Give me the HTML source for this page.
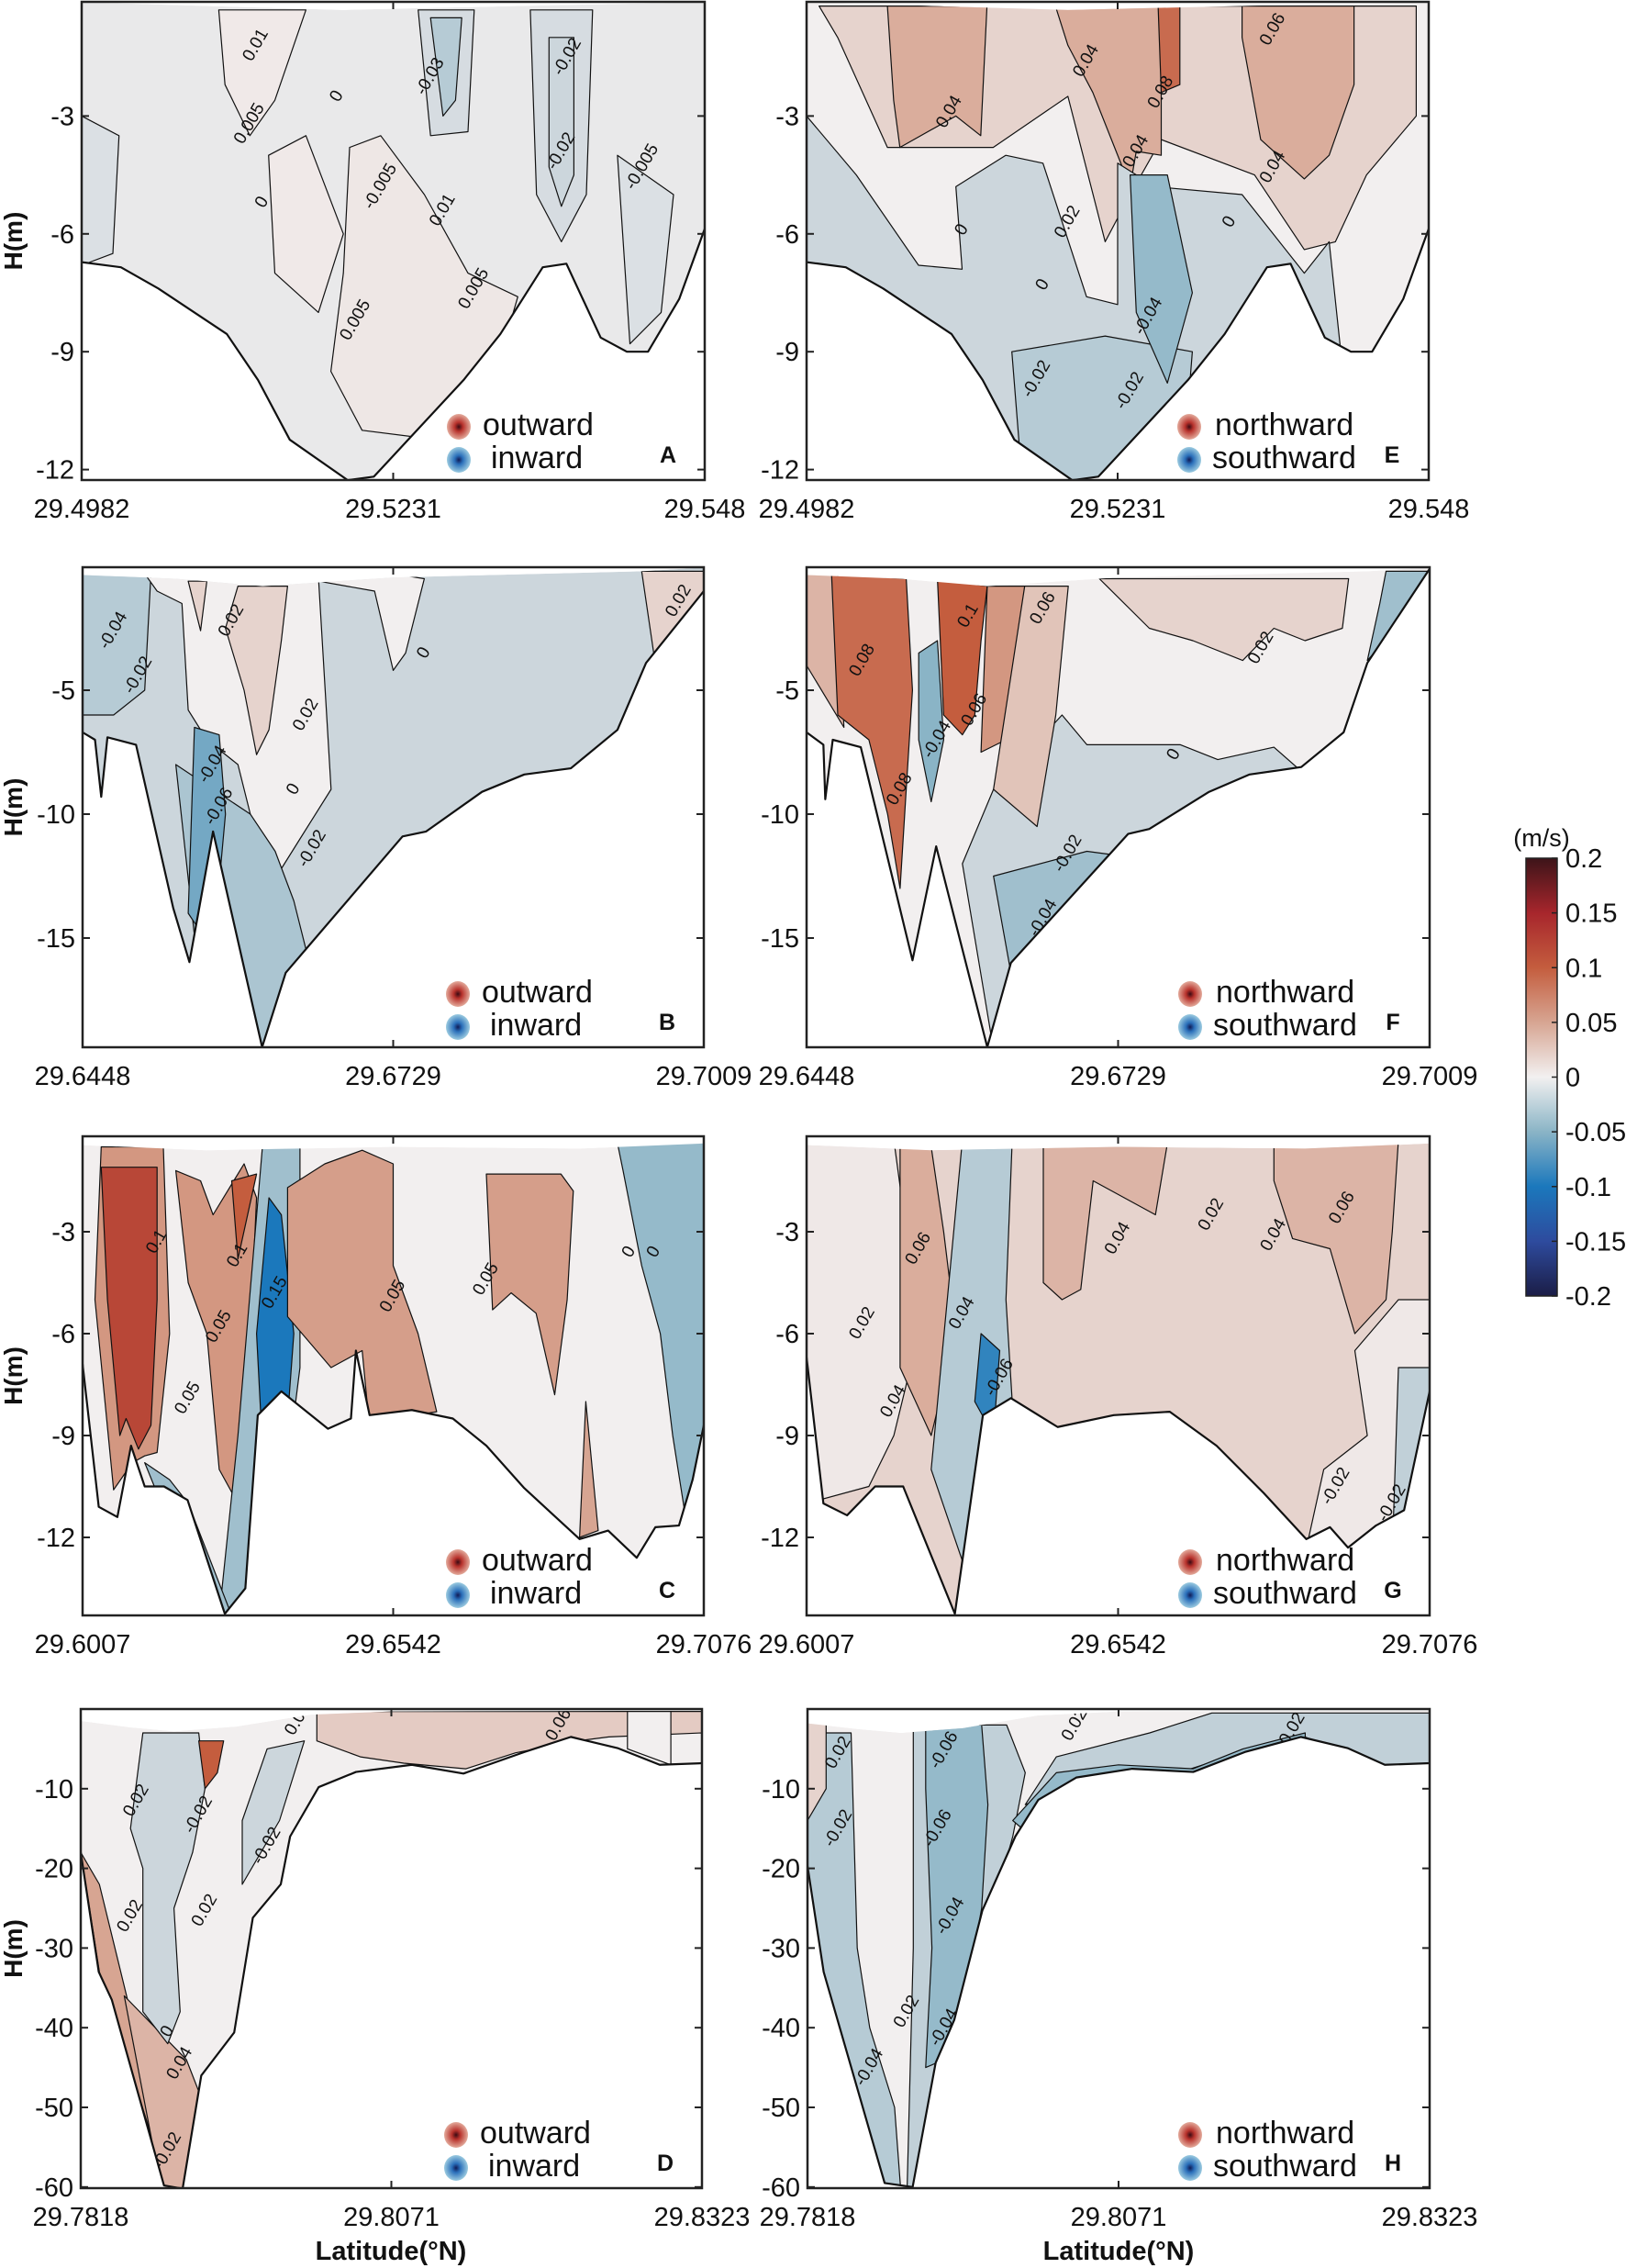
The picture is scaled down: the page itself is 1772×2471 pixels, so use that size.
<!DOCTYPE html>
<html><head><meta charset="utf-8"><title>Velocity sections</title>
<style>
html,body{margin:0;padding:0;background:#fff;}
svg{display:block;font-family:"Liberation Sans",Arial,sans-serif;}
</style></head>
<body>
<svg id="chart" width="1772" height="2471" viewBox="0 0 1772 2471" xmlns="http://www.w3.org/2000/svg">
<defs>
<radialGradient id="gRed"><stop offset="0" stop-color="#3a0a12"/><stop offset="0.35" stop-color="#b8322c"/><stop offset="1" stop-color="#e3ab9c"/></radialGradient>
<radialGradient id="gBlue"><stop offset="0" stop-color="#101a55"/><stop offset="0.35" stop-color="#2a6fba"/><stop offset="1" stop-color="#9ccbe0"/></radialGradient>
<linearGradient id="gBar" x1="0" y1="1" x2="0" y2="0">
<stop offset="0" stop-color="#1b1d46"/><stop offset="0.125" stop-color="#2e4b9e"/><stop offset="0.25" stop-color="#1b78bc"/><stop offset="0.375" stop-color="#8ab4c6"/><stop offset="0.5" stop-color="#f2f0f0"/><stop offset="0.625" stop-color="#d7a592"/><stop offset="0.75" stop-color="#c45d3e"/><stop offset="0.875" stop-color="#a7262c"/><stop offset="1" stop-color="#3d1419"/>
</linearGradient>
</defs>
</svg>
<script>
// ---------- data ----------
const bathyA_x=[0,0.063,0.123,0.233,0.283,0.334,0.427,0.469,0.613,0.672,0.74,0.778,0.833,0.875,0.909,0.959,1];
const bathyA_h=[-6.72,-6.85,-7.39,-8.55,-9.72,-11.24,-12.27,-12.18,-9.72,-8.55,-6.85,-6.76,-8.64,-9.0,-9.0,-7.66,-5.87];
const surfA_x=[0,0.2,0.42,0.7,1];
const surfA_h=[-0.1,-0.2,-0.3,-0.2,-0.1];
const bathyB_x=[0,0.02,0.03,0.04,0.086,0.146,0.172,0.21,0.289,0.327,0.515,0.553,0.643,0.711,0.786,0.861,0.907,1];
const bathyB_h=[-6.7,-7.0,-9.3,-6.9,-7.2,-13.8,-15.97,-10.7,-19.4,-16.4,-10.9,-10.7,-9.1,-8.4,-8.15,-6.6,-3.9,-1.0];
const surfB_x=[0,0.15,0.29,0.5,0.9,1];
const surfB_h=[-0.35,-0.5,-0.8,-0.45,-0.2,-0.05];
const bathyF_x=[0,0.027,0.03,0.042,0.087,0.17,0.208,0.29,0.328,0.516,0.55,0.646,0.711,0.794,0.862,0.9,1];
const bathyF_h=[-6.7,-7.2,-9.4,-7.0,-7.3,-15.9,-11.3,-19.4,-16.0,-10.8,-10.6,-9.1,-8.4,-8.1,-6.7,-3.9,-0.1];
const bathyC_x=[0,0.026,0.056,0.078,0.1,0.131,0.169,0.229,0.262,0.282,0.32,0.395,0.432,0.44,0.462,0.53,0.596,0.65,0.711,0.8,0.846,0.892,0.922,0.96,0.982,1];
const bathyC_h=[-6.9,-11.1,-11.4,-9.3,-10.5,-10.5,-10.9,-14.25,-13.5,-8.4,-7.7,-8.8,-8.5,-6.5,-8.4,-8.25,-8.5,-9.3,-10.55,-12.05,-11.8,-12.6,-11.7,-11.65,-10.3,-8.7];
const surfC_x=[0,0.2,0.5,0.8,1];
const surfC_h=[-0.45,-0.6,-0.5,-0.55,-0.4];
const bathyG_x=[0,0.027,0.065,0.11,0.155,0.238,0.283,0.328,0.403,0.493,0.583,0.658,0.734,0.802,0.84,0.869,0.914,0.959,1];
const bathyG_h=[-6.7,-11.0,-11.35,-10.5,-10.5,-14.25,-8.4,-7.9,-8.75,-8.4,-8.3,-9.3,-10.7,-12.05,-11.7,-12.3,-11.65,-11.2,-7.7];
const bathyD_x=[0,0.029,0.05,0.134,0.164,0.194,0.247,0.277,0.322,0.337,0.383,0.443,0.533,0.616,0.714,0.789,0.864,0.932,1];
const bathyD_h=[-18,-33,-36.5,-59.8,-60.2,-46,-40.6,-26.2,-22,-16,-9.8,-7.9,-7,-8.1,-5.4,-3.5,-4.9,-7,-6.8];
const surfD_x=[0,0.08,0.15,0.25,0.37,0.5,1];
const surfD_h=[-1.5,-2.3,-2.8,-2.2,-0.7,-0.3,-0.2];
const bathyH_x=[0,0.026,0.124,0.169,0.206,0.236,0.281,0.334,0.371,0.432,0.522,0.62,0.703,0.793,0.868,0.928,1];
const bathyH_h=[-19.7,-33,-59.5,-60,-44.4,-39,-25.3,-16,-11.4,-8.6,-7.5,-7.9,-5.4,-3.5,-4.9,-7,-6.8];
const surfH_x=[0,0.08,0.15,0.25,0.37,0.5,1];
const surfH_h=[-1.8,-2.5,-3.0,-2.4,-0.8,-0.3,-0.2];

// region values (m/s) and outlines in (fraction, depth)
const regA_val=[0.004,0.006,0.004,-0.015,-0.03,-0.015,-0.02,-0.012,-0.012];
const regA_pts=[
[[0.22,-0.3],[0.36,-0.3],[0.31,-2.6],[0.27,-3.5],[0.23,-2.2]],
[[0.43,-3.8],[0.48,-3.5],[0.55,-5],[0.62,-7],[0.7,-7.6],[0.66,-9.8],[0.55,-11.2],[0.45,-11],[0.4,-9.5],[0.42,-7]],
[[0.3,-4],[0.36,-3.5],[0.42,-6],[0.38,-8],[0.31,-7]],
[[0.54,-0.3],[0.63,-0.3],[0.62,-3.4],[0.56,-3.5]],
[[0.56,-0.5],[0.61,-0.5],[0.6,-2.6],[0.58,-3]],
[[0.72,-0.3],[0.82,-0.3],[0.81,-5],[0.77,-6.2],[0.73,-5]],
[[0.75,-1],[0.79,-1],[0.79,-4.5],[0.77,-5.3],[0.75,-4.3]],
[[0,-3],[0.06,-3.5],[0.05,-6.5],[0,-6.8]],
[[0.86,-4],[0.95,-5],[0.93,-8],[0.88,-8.8]]];
const regE_val=[0.02,0.045,0.045,0.045,0.09,-0.02,-0.03,-0.045];
const regE_pts=[
[[0.02,-0.2],[0.98,-0.2],[0.98,-3],[0.9,-4.5],[0.85,-6.2],[0.8,-6.4],[0.72,-4.5],[0.57,-3.6],[0.52,-5],[0.48,-6.2],[0.42,-2.5],[0.3,-3.8],[0.13,-3.8],[0.05,-1]],
[[0.13,-0.2],[0.29,-0.2],[0.28,-3.5],[0.24,-3],[0.15,-3.8],[0.14,-2.6]],
[[0.4,-0.2],[0.57,-0.2],[0.57,-4],[0.53,-3.9],[0.52,-4.8],[0.46,-2.4],[0.42,-1.2]],
[[0.7,-0.2],[0.88,-0.2],[0.88,-2.2],[0.84,-4],[0.8,-4.6],[0.73,-3.6],[0.7,-1]],
[[0.565,-0.2],[0.6,-0.2],[0.6,-2.2],[0.57,-2.4]],
[[0,-3],[0.08,-4.5],[0.18,-6.8],[0.25,-6.9],[0.24,-4.8],[0.32,-4],[0.38,-4.2],[0.45,-7.6],[0.5,-7.8],[0.5,-4.2],[0.56,-4.8],[0.7,-5],[0.8,-7],[0.84,-6.2],[0.86,-9.2],[0.6,-13],[0,-13]],
[[0.33,-9],[0.48,-8.6],[0.62,-9],[0.6,-13],[0.35,-13]],
[[0.52,-4.5],[0.58,-4.5],[0.62,-7.5],[0.58,-9.8],[0.53,-8]]];
const regB_val=[-0.03,0,0.02,0.02,0.02,-0.035,-0.06];
const regB_pts=[
[[0,-0.3],[0.11,-0.3],[0.1,-5],[0.05,-6],[0,-6]],
[[0.1,-0.3],[0.5,-0.3],[0.55,-0.5],[0.52,-3.5],[0.5,-4.2],[0.47,-1],[0.38,-0.6],[0.4,-9],[0.35,-11],[0.3,-13],[0.27,-10],[0.25,-8],[0.2,-7],[0.17,-5.8],[0.16,-1.5],[0.12,-1]],
[[0.9,-0.2],[1,-0.2],[1,-1.2],[0.92,-3.6]],
[[0.17,-0.6],[0.2,-0.6],[0.19,-2.6]],
[[0.25,-0.8],[0.33,-0.8],[0.32,-3],[0.3,-6.6],[0.28,-7.6],[0.26,-5],[0.23,-2.5]],
[[0.15,-8],[0.27,-10],[0.31,-11.5],[0.34,-13.5],[0.4,-19.5],[0.2,-19.5]],
[[0.18,-6.5],[0.22,-6.8],[0.23,-10],[0.21,-15.5],[0.17,-14]]];
const regF_val=[0.02,-0.02,-0.04,0.04,0.09,0.1,0.06,0.03,-0.05,-0.04];
const regF_pts=[
[[0.47,-0.5],[0.87,-0.5],[0.86,-2.5],[0.8,-3],[0.75,-2.5],[0.7,-3.8],[0.62,-3],[0.55,-2.5]],
[[0.41,-6],[0.45,-7.2],[0.6,-7.2],[0.66,-7.8],[0.75,-7.3],[0.8,-8.4],[0.6,-12],[0.35,-19.5],[0.3,-19.5],[0.25,-12],[0.3,-9]],
[[0.3,-12.5],[0.45,-11.5],[0.6,-12],[0.55,-14],[0.35,-19.5]],
[[0,-0.3],[0.05,-0.3],[0.06,-6.5],[0.0,-4]],
[[0.04,-0.3],[0.16,-0.5],[0.17,-5],[0.16,-9],[0.15,-13],[0.13,-10],[0.1,-7],[0.05,-6]],
[[0.21,-0.5],[0.29,-0.8],[0.28,-3],[0.27,-6],[0.25,-6.8],[0.22,-6]],
[[0.29,-0.8],[0.35,-0.8],[0.34,-4],[0.32,-7],[0.28,-7.5]],
[[0.35,-0.8],[0.42,-0.8],[0.4,-6],[0.37,-10.5],[0.3,-9]],
[[0.18,-3.5],[0.21,-3],[0.22,-7],[0.2,-9.5],[0.18,-7]],
[[0.93,-0.2],[1,-0.2],[1,-1],[0.9,-3.8],[0.92,-1.5]]];
const regC_val=[0.06,0.12,0.06,0.1,-0.04,-0.1,0.055,0.055,0.05,-0.045,-0.04];
const regC_pts=[
[[0.03,-0.5],[0.13,-0.5],[0.14,-6],[0.12,-9.5],[0.1,-9.6],[0.08,-9.8],[0.05,-10.6],[0.02,-5]],
[[0.03,-1.1],[0.12,-1.1],[0.12,-5],[0.11,-8.7],[0.09,-9.4],[0.07,-8.5],[0.06,-9],[0.04,-5]],
[[0.15,-1.2],[0.19,-1.5],[0.21,-2.5],[0.26,-1],[0.28,-2],[0.27,-6],[0.26,-9],[0.25,-11],[0.22,-10],[0.2,-6],[0.17,-4.5]],
[[0.24,-1.5],[0.28,-1.3],[0.25,-3.8]],
[[0.29,-0.4],[0.35,-0.4],[0.35,-7],[0.3,-14.3],[0.22,-14.3],[0.25,-9]],
[[0.3,-2],[0.32,-2.5],[0.34,-6],[0.33,-8.5],[0.29,-9.5],[0.28,-6]],
[[0.39,-1],[0.45,-0.6],[0.5,-1],[0.5,-4],[0.54,-6],[0.57,-8.3],[0.5,-8.5],[0.46,-8.4],[0.45,-6.5],[0.4,-7],[0.33,-5.5],[0.33,-1.7]],
[[0.65,-1.3],[0.77,-1.3],[0.79,-1.8],[0.78,-5],[0.76,-7.8],[0.73,-5.4],[0.69,-4.8],[0.66,-5.3]],
[[0.81,-8],[0.83,-11.8],[0.8,-12]],
[[0.86,-0.3],[1,-0.3],[1,-12.5],[0.98,-12.5],[0.95,-9],[0.93,-6],[0.9,-4],[0.87,-1.2]],
[[0.1,-9.8],[0.14,-10.3],[0.17,-11],[0.24,-14.3],[0.2,-14.3]]];
const regG_val=[0.005,0.045,-0.03,-0.09,0.04,0.04,0.005,-0.025];
const regG_pts=[
[[0,-0.3],[0.14,-0.3],[0.16,-3],[0.18,-6],[0.14,-9],[0.1,-10.5],[0,-11]],
[[0.15,-0.5],[0.2,-0.5],[0.22,-3],[0.24,-6],[0.2,-9],[0.15,-7]],
[[0.25,-0.3],[0.33,-0.3],[0.32,-5],[0.33,-8],[0.28,-14.3],[0.2,-10]],
[[0.28,-6],[0.31,-6.5],[0.3,-9],[0.27,-8]],
[[0.38,-0.3],[0.58,-0.3],[0.56,-2.5],[0.46,-1.5],[0.44,-4.7],[0.41,-5],[0.38,-4.5]],
[[0.75,-0.3],[0.95,-0.3],[0.94,-3],[0.93,-5],[0.88,-6],[0.84,-3.5],[0.78,-3.2],[0.75,-1.5]],
[[0.88,-6.5],[0.95,-5],[1,-5],[1,-12.5],[0.8,-12.5],[0.83,-10],[0.9,-9]],
[[0.95,-7],[1,-7],[1,-12.5],[0.94,-12.5]]];
const regD_val=[0.05,0.04,-0.02,0.1,0.025,0,-0.02];
const regD_pts=[
[[0,-18],[0.03,-22],[0.08,-38],[0.13,-46],[0.16,-56],[0.14,-60],[0.03,-33]],
[[0.07,-36],[0.12,-40],[0.17,-44],[0.2,-50],[0.18,-60.5],[0.13,-60.5]],
[[0.1,-3],[0.19,-3],[0.2,-10],[0.18,-18],[0.15,-25],[0.16,-38],[0.14,-42],[0.1,-38],[0.1,-20],[0.08,-15]],
[[0.19,-4],[0.23,-4],[0.22,-8],[0.2,-10]],
[[0.38,-0.3],[1,-0.3],[1,-3],[0.85,-3.5],[0.8,-4],[0.7,-5.5],[0.62,-7.5],[0.52,-6.8],[0.45,-6],[0.38,-4]],
[[0.88,-0.3],[0.95,-0.3],[0.95,-7],[0.88,-5]],
[[0.3,-5],[0.36,-4],[0.32,-14],[0.26,-22],[0.26,-14]]];
const regH_val=[-0.03,0.02,-0.025,-0.045,-0.025,-0.045];
const regH_pts=[
[[0,-3],[0.07,-3],[0.08,-30],[0.1,-40],[0.14,-50],[0.15,-60.5],[0.1,-60.5],[0.03,-35],[0,-20]],
[[0,-0.5],[0.03,-0.5],[0.03,-10],[0,-14]],
[[0.17,-2],[0.32,-2],[0.35,-8],[0.33,-16],[0.28,-30],[0.2,-60.5],[0.16,-60.5],[0.17,-30]],
[[0.19,-2],[0.28,-2],[0.29,-12],[0.28,-25],[0.25,-38],[0.22,-44],[0.19,-45],[0.2,-30],[0.19,-10]],
[[0.4,-6],[0.55,-3],[0.65,-0.5],[1,-0.5],[1,-7],[0.9,-7],[0.8,-3.5],[0.7,-5.4],[0.6,-7.9],[0.5,-7.5],[0.43,-8.6],[0.37,-11.4],[0.35,-12]],
[[0.33,-14],[0.4,-8],[0.5,-7],[0.62,-7.5],[0.7,-5],[0.8,-3],[0.8,-4.2],[0.7,-6.5],[0.62,-9],[0.43,-10],[0.36,-16]]];

// contour labels: text, fraction, depth
const labA=[["0.01",0.28,-1.2],["0.005",0.27,-3.2],["0",0.41,-2.5],["-0.03",0.56,-2],["-0.02",0.78,-1.5],["0",0.29,-5.2],["-0.005",0.48,-4.8],["0.01",0.58,-5.4],["-0.02",0.77,-3.9],["-0.005",0.9,-4.3],["0.005",0.44,-8.2],["0.005",0.63,-7.4]];
const labE=[["0.04",0.23,-2.9],["0.04",0.45,-1.6],["0.08",0.57,-2.4],["0.06",0.75,-0.8],["0.04",0.53,-3.9],["0.04",0.75,-4.3],["0",0.25,-5.9],["0.02",0.42,-5.7],["0",0.68,-5.7],["0",0.38,-7.3],["-0.04",0.55,-8.1],["-0.02",0.37,-9.7],["-0.02",0.52,-10]];
const labB=[["-0.04",0.05,-2.6],["-0.02",0.09,-4.4],["0.02",0.24,-2.2],["0",0.55,-3.5],["0.02",0.36,-6],["-0.04",0.21,-8],["-0.06",0.22,-9.7],["0",0.34,-9],["-0.02",0.37,-11.4],["0.02",0.96,-1.4]];
const labF=[["0.08",0.09,-3.8],["0.1",0.26,-2],["0.06",0.38,-1.7],["0.02",0.73,-3.3],["0.06",0.27,-5.8],["-0.04",0.21,-7],["0",0.59,-7.6],["0.08",0.15,-9],["-0.02",0.42,-11.6],["-0.04",0.38,-14.2]];
const labC=[["0.1",0.12,-3.3],["0.1",0.25,-3.7],["0.05",0.22,-5.8],["0.15",0.31,-4.8],["0.05",0.5,-4.9],["0.05",0.65,-4.4],["0",0.88,-3.6],["0",0.92,-3.6],["0.05",0.17,-7.9]];
const labG=[["0.06",0.18,-3.5],["0.04",0.5,-3.2],["0.02",0.65,-2.5],["0.04",0.75,-3.1],["0.06",0.86,-2.3],["0.02",0.09,-5.7],["0.04",0.25,-5.4],["-0.06",0.31,-7.3],["0.04",0.14,-8],["-0.02",0.85,-10.5],["-0.02",0.94,-11]];
const labD=[["0.02",0.09,-11.5],["-0.02",0.19,-13.3],["-0.02",0.3,-17.2],["0.02",0.08,-26],["0.02",0.2,-25.3],["0",0.14,-40.5],["0.04",0.16,-44.5],["-0.02",0.14,-55.5],["0.04",0.35,-1.3],["0.06",0.77,-2]];
const labH=[["0.02",0.05,-5.5],["-0.06",0.22,-5.2],["-0.02",0.05,-15],["-0.06",0.21,-15],["-0.04",0.23,-26],["0.02",0.16,-38],["-0.04",0.22,-40],["-0.04",0.1,-45],["0.02",0.78,-2.5],["0.02",0.43,-2]];

const ticksRow1=[-3,-6,-9,-12], ticksRow2=[-5,-10,-15], ticksRow3=[-3,-6,-9,-12], ticksRow4=[-10,-20,-30,-40,-50,-60];
const latRow1=["29.4982","29.5231","29.548"], latRow2=["29.6448","29.6729","29.7009"], latRow3=["29.6007","29.6542","29.7076"], latRow4=["29.7818","29.8071","29.8323"];
const cbTicks=[0.2,0.15,0.1,0.05,0,-0.05,-0.1,-0.15,-0.2];

// ---------- colormap ----------
const cmapV=[-0.2,-0.15,-0.1,-0.05,-0.02,0,0.02,0.05,0.1,0.15,0.2];
const cmapC=["#1b1d46","#2e4b9e","#1b78bc","#8ab4c6","#ccd6dc","#f2efef","#e6d3cd","#d7a592","#c45d3e","#a7262c","#3d1419"];
function hex(c){return [parseInt(c.slice(1,3),16),parseInt(c.slice(3,5),16),parseInt(c.slice(5,7),16)];}
function cmap(v){
  if(v<=cmapV[0])return cmapC[0];
  for(let i=1;i<cmapV.length;i++){
    if(v<=cmapV[i]){const t=(v-cmapV[i-1])/(cmapV[i]-cmapV[i-1]);const a=hex(cmapC[i-1]),b=hex(cmapC[i]);
      return "rgb("+a.map((x,k)=>Math.round(x+(b[k]-x)*t)).join(",")+")";}
  }
  return cmapC[cmapC.length-1];
}

const NS="http://www.w3.org/2000/svg";
const svg=document.getElementById("chart");
function mk(tag,attrs,parent){const e=document.createElementNS(NS,tag);for(const k in attrs)e.setAttribute(k,attrs[k]);(parent||svg).appendChild(e);return e;}

const panels=[
 {id:"a",L:89,R:768,T:2,B:523,y0:-2,ppm:42.8,bg:-0.005,bx:bathyA_x,bh:bathyA_h,sx:surfA_x,sh:surfA_h,rv:regA_val,rp:regA_pts,lab:labA,ticks:ticksRow1,lats:latRow1,letter:"A",pos:"outward",neg:"inward",left:true},
 {id:"e",L:879,R:1557,T:2,B:523,y0:-2,ppm:42.8,bg:0,bx:bathyA_x,bh:bathyA_h,sx:surfA_x,sh:surfA_h,rv:regE_val,rp:regE_pts,lab:labE,ticks:ticksRow1,lats:latRow1,letter:"E",pos:"northward",neg:"southward",left:false},
 {id:"b",L:90,R:767,T:618,B:1141,y0:617,ppm:27,bg:-0.02,bx:bathyB_x,bh:bathyB_h,sx:surfB_x,sh:surfB_h,rv:regB_val,rp:regB_pts,lab:labB,ticks:ticksRow2,lats:latRow2,letter:"B",pos:"outward",neg:"inward",left:true},
 {id:"f",L:879,R:1558,T:618,B:1141,y0:617,ppm:27,bg:0,bx:bathyF_x,bh:bathyF_h,sx:surfB_x,sh:surfB_h,rv:regF_val,rp:regF_pts,lab:labF,ticks:ticksRow2,lats:latRow2,letter:"F",pos:"northward",neg:"southward",left:false},
 {id:"c",L:90,R:767,T:1238,B:1760,y0:1231,ppm:37,bg:0,bx:bathyC_x,bh:bathyC_h,sx:surfC_x,sh:surfC_h,rv:regC_val,rp:regC_pts,lab:labC,ticks:ticksRow3,lats:latRow3,letter:"C",pos:"outward",neg:"inward",left:true},
 {id:"g",L:879,R:1558,T:1238,B:1760,y0:1231,ppm:37,bg:0.02,bx:bathyG_x,bh:bathyG_h,sx:surfC_x,sh:surfC_h,rv:regG_val,rp:regG_pts,lab:labG,ticks:ticksRow3,lats:latRow3,letter:"G",pos:"northward",neg:"southward",left:false},
 {id:"d",L:88,R:765,T:1862,B:2384,y0:1862,ppm:8.68,bg:0,bx:bathyD_x,bh:bathyD_h,sx:surfD_x,sh:surfD_h,rv:regD_val,rp:regD_pts,lab:labD,ticks:ticksRow4,lats:latRow4,letter:"D",pos:"outward",neg:"inward",left:true},
 {id:"h",L:880,R:1558,T:1862,B:2384,y0:1862,ppm:8.68,bg:0,bx:bathyH_x,bh:bathyH_h,sx:surfH_x,sh:surfH_h,rv:regH_val,rp:regH_pts,lab:labH,ticks:ticksRow4,lats:latRow4,letter:"H",pos:"northward",neg:"southward",left:false}
];

const defs=svg.querySelector("defs");
panels.forEach(p=>{
  const X=f=>p.L+f*(p.R-p.L);
  const Y=h=>p.y0-h*p.ppm;
  const g=mk("g",{});
  
  
  let d="M"+X(p.sx[0])+","+Y(p.sh[0]);
  for(let i=1;i<p.sx.length;i++)d+=" L"+X(p.sx[i])+","+Y(p.sh[i]);
  for(let i=p.bx.length-1;i>=0;i--)d+=" L"+X(p.bx[i])+","+Y(p.bh[i]);
  d+=" Z";
  let bd="M"+X(p.bx[0])+","+Y(p.bh[0]);
  for(let i=1;i<p.bx.length;i++)bd+=" L"+X(p.bx[i])+","+Y(p.bh[i]);
  const cp=mk("clipPath",{id:"clip-"+p.id},defs);
  mk("path",{d:d},cp);
  mk("rect",{x:p.L,y:p.T,width:p.R-p.L,height:p.B-p.T},mk("clipPath",{id:"box-"+p.id},defs));
  const outer=mk("g",{"clip-path":"url(#box-"+p.id+")"},g);
  const inner=mk("g",{"clip-path":"url(#clip-"+p.id+")"},outer);
  const bgp=mk("path",{d:d,fill:cmap(p.bg),stroke:"none"},inner);
  
  
  p.rp.forEach((pts,i)=>{
    const poly=mk("polygon",{points:pts.map(q=>X(q[0]).toFixed(1)+","+Y(q[1]).toFixed(1)).join(" "),fill:cmap(p.rv[i]),stroke:"#111","stroke-width":1.2,"stroke-linejoin":"round"},inner);
    
    
  });
  p.lab.forEach(l=>{
    const t=mk("text",{x:X(l[1]),y:Y(l[2]),"font-size":19,fill:"#111","text-anchor":"middle","dominant-baseline":"middle",transform:"rotate(-60 "+X(l[1])+" "+Y(l[2])+")"},inner);
    t.textContent=l[0];
    
    
  });
  const bl=mk("path",{d:bd,fill:"none",stroke:"#111","stroke-width":2.2,"stroke-linejoin":"round"},outer);
  
  
  const fr=mk("rect",{x:p.L,y:p.T,width:p.R-p.L,height:p.B-p.T,fill:"none",stroke:"#222","stroke-width":2.5},g);
  
  
  p.ticks.forEach(v=>{
    const y=Y(v);
    mk("line",{x1:p.L,x2:p.L+8,y1:y,y2:y,stroke:"#222","stroke-width":2},g);
    mk("line",{x1:p.R,x2:p.R-8,y1:y,y2:y,stroke:"#222","stroke-width":2},g);
    const t=mk("text",{x:p.L-8,y:y+10,"font-size":29,"text-anchor":"end",fill:"#111"},g);
    t.textContent=v;
    
    
  });
  const xm=(p.L+p.R)/2;
  mk("line",{x1:xm,x2:xm,y1:p.B,y2:p.B-8,stroke:"#222","stroke-width":2},g);
  mk("line",{x1:xm,x2:xm,y1:p.T,y2:p.T+8,stroke:"#222","stroke-width":2},g);
  [p.L,xm,p.R].forEach((x,i)=>{
    const t=mk("text",{x:x,y:p.B+41,"font-size":29,"text-anchor":"middle",fill:"#111"},g);
    t.textContent=p.lats[i];
    
    
  });
  const lg=mk("g",{},g);
  
  
  const cx=p.left?p.R-268:p.R-261;
  mk("ellipse",{cx:cx,cy:p.B-58,rx:13,ry:14,fill:"url(#gRed)"},lg);
  mk("ellipse",{cx:cx,cy:p.B-22,rx:13,ry:14,fill:"url(#gBlue)"},lg);
  const t1=mk("text",{x:p.left?p.R-242:p.R-233,y:p.B-49,"font-size":34,fill:"#111"},lg);
  t1.textContent=p.pos;
  
  
  const t2=mk("text",{x:p.left?p.R-233:p.R-236,y:p.B-13,"font-size":34,fill:"#111"},lg);
  t2.textContent=p.neg;
  
  
  const tl=mk("text",{x:p.R-40,y:p.B-19,"font-size":25,"font-weight":"bold","text-anchor":"middle",fill:"#111"},g);
  tl.textContent=p.letter;
  
  
  if(p.left){
    const yc=(p.T+p.B)/2;
    const ya=mk("text",{x:24,y:yc,"font-size":28,"font-weight":"bold","text-anchor":"middle",fill:"#111",transform:"rotate(-90 24 "+yc+")"},g);
    ya.textContent="H(m)";
    
    
  }
});

[[426,"x-axis-title-left"],[1219,"x-axis-title-right"]].forEach(a=>{
  const t=mk("text",{x:a[0],y:2462,"font-size":29,"font-weight":"bold","text-anchor":"middle",fill:"#111"});
  t.textContent="Latitude(°N)";
  
  
});

const cb=mk("g",{});


const cbT=935,cbB=1412,cbL=1663,cbR=1697;
const cbY=v=>cbB-(v+0.2)/0.4*(cbB-cbT);
mk("rect",{x:cbL,y:cbT,width:cbR-cbL,height:cbB-cbT,fill:"url(#gBar)",stroke:"#222","stroke-width":1.5},cb);
cbTicks.forEach(v=>{
  const y=cbY(v);
  mk("line",{x1:cbR-6,x2:cbR,y1:y,y2:y,stroke:"#222","stroke-width":1.5},cb);
  const t=mk("text",{x:1706,y:y+10,"font-size":29,fill:"#111"},cb);
  t.textContent=String(v);
  
  
});
const cu=mk("text",{x:1680,y:922,"font-size":27,"text-anchor":"middle",fill:"#111"},cb);
cu.textContent="(m/s)";


</script>
</body></html>
